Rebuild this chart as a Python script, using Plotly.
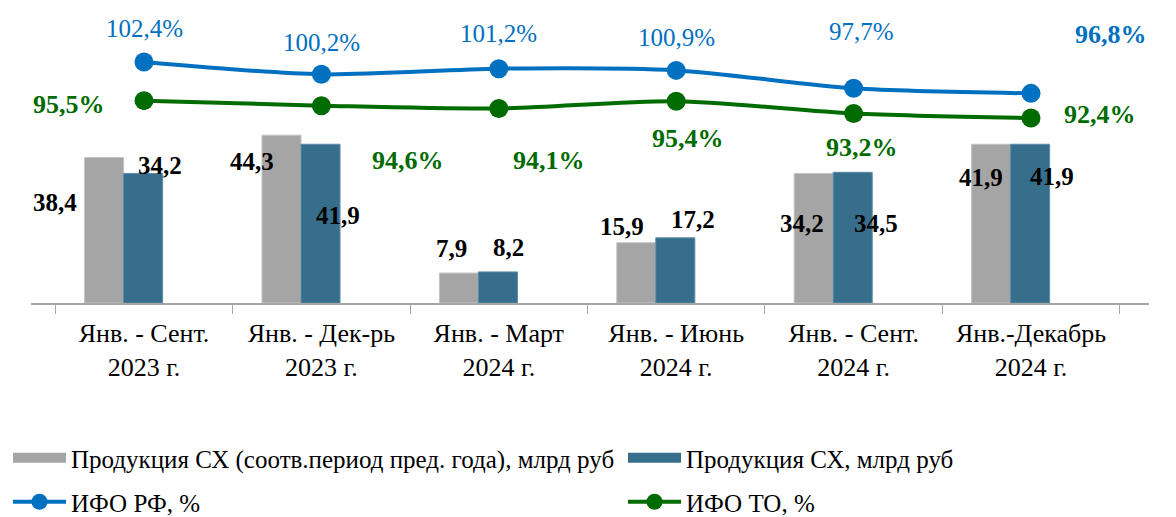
import plotly.graph_objects as go

# ---------------- data ----------------
categories = ["Янв. - Сент.<br>2023 г.", "Янв. - Дек-рь<br>2023 г.", "Янв. - Март<br>2024 г.",
              "Янв. - Июнь<br>2024 г.", "Янв. - Сент.<br>2024 г.", "Янв.-Декабрь<br>2024 г."]
prod_prev = [38.4, 44.3, 7.9, 15.9, 34.2, 41.9]
prod_cur = [34.2, 41.9, 8.2, 17.2, 34.5, 41.9]
ifo_rf = [102.4, 100.2, 101.2, 100.9, 97.7, 96.8]
ifo_to = [95.5, 94.6, 94.1, 95.4, 93.2, 92.4]

name_prev = "Продукция СХ (соотв.период пред. года), млрд руб"
name_cur = "Продукция СХ, млрд руб"
name_rf = "ИФО РФ, %"
name_to = "ИФО ТО, %"

# ---------------- styles ----------------
C_GREY = "#A5A5A5"
C_TEAL = "#366E8C"
C_BLUE = "#0070C0"
C_GREEN = "#006B00"
FONT = "Times New Roman, Liberation Serif, serif"
W, H = 1168, 509

def fmt(v, pct=False):
    s = f"{v:.1f}".replace(".", ",")
    return s + "%" if pct else s

# label offsets in pixels (xshift, yshift) relative to each mark
off_prev = [(-89, -45), (-69, -26), (-47, 25), (-54, 16), (-52, -50), (-50, -33)]
off_cur = [(16, 8), (17, -71), (10, 24), (17, 18), (22, -51), (21, -32)]
off_rf = [(0, 34), (0, 32), (0, 35), (0, 33), (8, 57), (80, 59)]
off_to = [(-75, -4), (87, -55), (50, -52), (12, -37), (8, -34), (69, 3)]

fig = go.Figure()
bw = 0.22
fig.add_trace(go.Bar(x=categories, y=prod_prev, name=name_prev, marker_color=C_GREY,
                     marker_line=dict(color="#C4C4C4", width=1),
                     width=bw, offset=-0.335, showlegend=False))
fig.add_trace(go.Bar(x=categories, y=prod_cur, name=name_cur, marker_color=C_TEAL,
                     marker_line=dict(color="#5B8BA6", width=1),
                     width=bw, offset=-0.115, showlegend=False))
# legend swatches for the bar series (wide rectangles)
fig.add_trace(go.Scatter(x=[None], y=[None], name=name_prev, mode="lines",
                         line=dict(color=C_GREY, width=11), legend="legend"))
fig.add_trace(go.Scatter(x=[None], y=[None], name=name_cur, mode="lines",
                         line=dict(color=C_TEAL, width=11), legend="legend2"))
fig.add_trace(go.Scatter(x=categories, y=ifo_rf, name=name_rf, yaxis="y2", mode="lines+markers",
                         line=dict(color=C_BLUE, width=4, shape="spline", smoothing=0.8),
                         marker=dict(size=19, color=C_BLUE), legend="legend3"))
fig.add_trace(go.Scatter(x=categories, y=ifo_to, name=name_to, yaxis="y2", mode="lines+markers",
                         line=dict(color=C_GREEN, width=4, shape="spline", smoothing=0.8),
                         marker=dict(size=19, color=C_GREEN), legend="legend4"))

ann = []
for i, c in enumerate(categories):
    ann.append(dict(x=c, y=prod_prev[i], yref="y", text=f"<b>{fmt(prod_prev[i])}</b>",
                    xshift=off_prev[i][0], yshift=off_prev[i][1],
                    font=dict(family=FONT, size=25, color="black")))
    ann.append(dict(x=c, y=prod_cur[i], yref="y", text=f"<b>{fmt(prod_cur[i])}</b>",
                    xshift=off_cur[i][0], yshift=off_cur[i][1],
                    font=dict(family=FONT, size=25, color="black")))
    if i == len(categories) - 1:
        t, fs = f"<b>{fmt(ifo_rf[i], True)}</b>", 26
    else:
        t, fs = fmt(ifo_rf[i], True), 25
    ann.append(dict(x=c, y=ifo_rf[i], yref="y2", text=t,
                    xshift=off_rf[i][0], yshift=off_rf[i][1],
                    font=dict(family=FONT, size=fs, color=C_BLUE)))
    ann.append(dict(x=c, y=ifo_to[i], yref="y2", text=f"<b>{fmt(ifo_to[i], True)}</b>",
                    xshift=off_to[i][0], yshift=off_to[i][1],
                    font=dict(family=FONT, size=26, color=C_GREEN)))
for a in ann:
    a.update(xref="x", showarrow=False, xanchor="center", yanchor="middle")

def leg(x, y):
    return dict(orientation="h", xref="container", yref="container",
                x=x, xanchor="left", y=y, yanchor="middle", itemwidth=53,
                font=dict(family=FONT, size=25, color="black"), bgcolor="rgba(0,0,0,0)")

fig.update_layout(
    width=W, height=H,
    margin=dict(l=23, r=27, t=12, b=214, autoexpand=False),
    paper_bgcolor="white", plot_bgcolor="white",
    barmode="overlay",
    font=dict(family=FONT, size=25, color="black"),
    xaxis=dict(type="category", showline=True, linecolor="#A6A6A6", linewidth=1.5,
               ticks="outside", tickson="boundaries", ticklen=9, tickcolor="#A6A6A6",
               ticklabelstandoff=6,
               tickfont=dict(family=FONT, size=26, color="black"), showgrid=False),
    yaxis=dict(range=[0, 74.7], visible=False, showgrid=False),
    yaxis2=dict(range=[59.36, 109.9], overlaying="y", visible=False, showgrid=False),
    annotations=ann,
    showlegend=True,
    legend=leg(0.0, 1 - 450 / H),
    legend2=leg(615 / W, 1 - 450 / H),
    legend3=leg(0.0, 1 - 494 / H),
    legend4=leg(615 / W, 1 - 494 / H),
)

fig.write_html("out.html")
